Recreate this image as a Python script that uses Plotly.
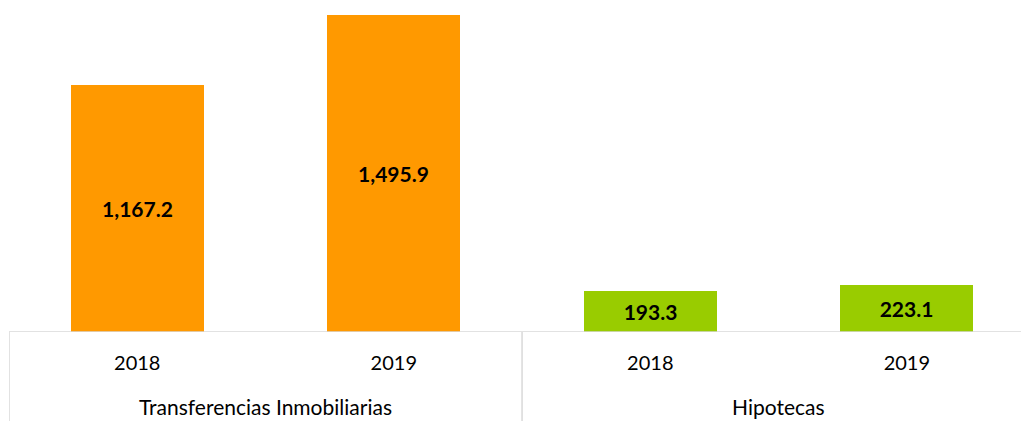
import plotly.graph_objects as go

groups = ["Transferencias Inmobiliarias", "Hipotecas"]
years = ["2018", "2019", "2018", "2019"]
values = [1167.2, 1495.9, 193.3, 223.1]
colors = ["#FF9900", "#FF9900", "#99CC00", "#99CC00"]
labels = ["1,167.2", "1,495.9", "193.3", "223.1"]

pos = list(range(len(values)))

fig = go.Figure()
fig.add_trace(go.Bar(
    x=pos, y=values, width=0.518,
    marker=dict(color=colors, line=dict(width=0)),
    text=labels, textposition="inside", insidetextanchor="middle",
    textangle=0,
    textfont=dict(family="Lato, Carlito, sans-serif", size=21, color="#000000", weight="bold"),
    cliponaxis=False,
))

tfont = dict(family="Lato, Carlito, sans-serif", size=20, color="#000000")
gfont = dict(family="Lato, Carlito, sans-serif", size=21, color="#000000")

fig.update_layout(
    width=1021, height=421,
    margin=dict(l=9, r=0, t=0, b=89),
    paper_bgcolor="white", plot_bgcolor="white",
    showlegend=False,
    bargap=0,
    xaxis=dict(
        range=[-0.5, 3.445], tickvals=pos, ticktext=years,
        showgrid=False, zeroline=False, showline=False,
        ticks="", tickfont=tfont, ticklabelstandoff=17,
    ),
    yaxis=dict(range=[0, 1567.5], visible=False),
)

# horizontal axis line
fig.add_shape(type="line", xref="paper", yref="y", x0=0, x1=1, y0=0, y1=0,
              line=dict(color="#D9D9D9", width=1.5))
# vertical separators
for xv in [-0.5, 1.5, 3.5]:
    fig.add_shape(type="line", xref="x", yref="paper", x0=xv, x1=xv, y0=0, y1=-0.3,
                  line=dict(color="#D9D9D9", width=1.5))

for i, g in enumerate(groups):
    fig.add_annotation(x=2 * i + 0.5, xref="x", y=0, yref="paper", yshift=-74,
                       text=g, showarrow=False, font=gfont, yanchor="middle")

fig.write_html("out.html", config={"displayModeBar": False},
               post_script="document.body.style.margin='0';document.body.style.overflow='hidden';")
